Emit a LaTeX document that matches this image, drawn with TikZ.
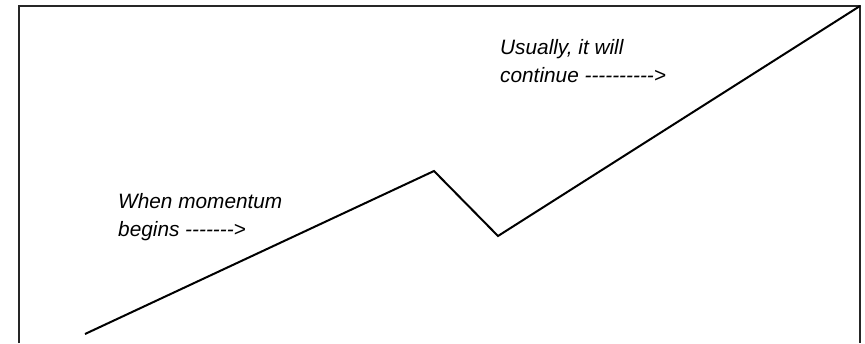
\documentclass[tikz,border=0pt]{standalone}
\usepackage{fontspec}
\newfontfamily\lab{Liberation Sans}
\begin{document}
\begin{tikzpicture}[x=1pt,y=-1pt,
  frame/.style={line width=1.2pt,draw=black!85},
  trend/.style={line width=2pt,line join=miter},
  note/.style={font=\lab\itshape\fontsize{20.8}{28}\selectfont,inner sep=0pt,anchor=base west}]
\useasboundingbox (0,0) rectangle (865,343);
\coordinate (fbl) at (19,343);
\coordinate (ftl) at (19,6);
\coordinate (ftr) at (860,6);
\coordinate (fbr) at (860,343);
\draw[frame] (fbl) -- (ftl) -- (ftr) -- (fbr);
\coordinate (p0) at (85,334);
\coordinate (p1) at (434,171);
\coordinate (p2) at (498,236);
\draw[trend] (p0) -- (p1) -- (p2) -- (ftr);
\node[note] (t1a) at (118,208) {When momentum};
\node[note] (t1b) at (118,236) {begins -------{>}};
\node[note] (t2a) at (500,54) {Usually, it will};
\node[note] (t2b) at (500,82) {continue ----------{>}};
\end{tikzpicture}
\end{document}
